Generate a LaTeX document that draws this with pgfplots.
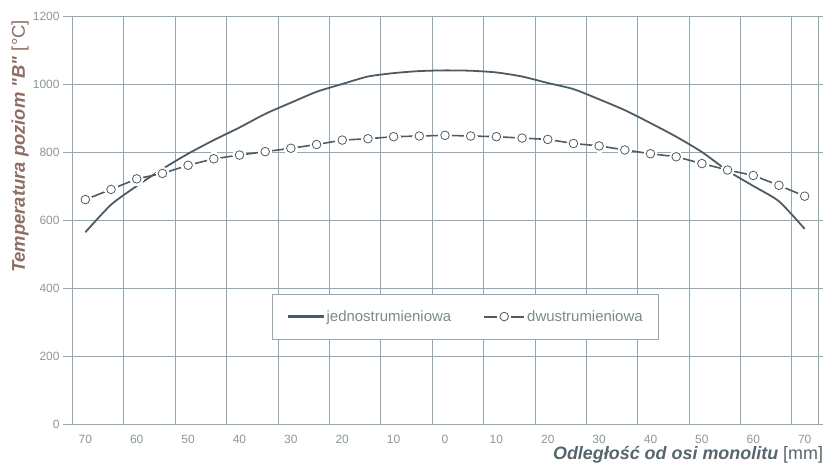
\documentclass[border=0pt]{standalone}
\usepackage{pgfplots}
\usepackage{pgfplotstable}
\pgfplotsset{compat=1.18}
\usepackage{fontspec}
\setmainfont{Liberation Sans}
\definecolor{gridc}{HTML}{8FA8B4}
\definecolor{linec}{HTML}{4F5B63}
\definecolor{tickc}{HTML}{8A979E}
\definecolor{ylab}{HTML}{8E6E62}
\definecolor{xlab}{HTML}{56666E}

\pgfplotstableread{
x y
-70 564
-65 645
-60 700
-55 750
-50 795
-45 835
-40 872
-35 912
-30 945
-25 977
-20 1000
-15 1022
-10 1032
-5 1038
0 1040
5 1039
10 1034
15 1022
20 1003
25 985
30 955
35 923
40 885
45 845
50 800
55 745
60 700
65 655
70 574
}\jedno

\pgfplotstableread{
x y
-70 660
-65 690
-60 721
-55 737
-50 761
-45 780
-40 791
-35 801
-30 811
-25 822
-20 835
-15 839
-10 845
-5 847
0 849
5 847
10 845
15 841
20 837
25 825
30 818
35 806
40 795
45 786
50 766
55 747
60 731
65 702
70 670
}\dwu

\begin{document}
\begin{tikzpicture}
\begin{axis}[
  name=ax, scale only axis, width=746bp, height=408bp,
  xmin=-72.6, xmax=72.6, ymin=0, ymax=1200,
  xtick={-70,-60,-50,-40,-30,-20,-10,0,10,20,30,40,50,60,70},
  xticklabels={70,60,50,40,30,20,10,0,10,20,30,40,50,60,70},
  minor xtick={-62.5,-52.5,-42.5,-32.5,-22.5,-12.5,-2.5,7.5,17.5,27.5,37.5,47.5,57.5,67.5},
  xminorgrids,
  ytick={0,200,400,600,800,1000,1200},
  ymajorgrids,
  major x tick style={draw=none},
  minor x tick style={draw=none},
  ytick style={gridc, line width=0.8pt},
  ytick align=outside, major tick length=9bp,
  axis line style={gridc, line width=0.8pt},
  grid style={gridc, line width=0.8pt},
  minor grid style={gridc, line width=0.8pt},
  tick label style={font=\fontsize{12}{14}\selectfont, text=tickc},
  xticklabel style={yshift=-8bp},
  /pgf/number format/assume math mode=true,
  /pgf/number format/1000 sep={},
  xlabel={\textbf{\textit{Odległość od osi monolitu}} [mm]},
  xlabel style={at={(axis description cs:1.007,-0.076)}, anchor=east, font=\fontsize{18}{20}\selectfont, text=xlab, inner sep=0pt},
  ylabel={\textbf{\textit{Temperatura poziom \textquotedbl B\textquotedbl}} [°C]},
  ylabel style={at={(axis description cs:-0.0697,0.68)}, anchor=center, font=\fontsize{18.5}{20}\selectfont, text=ylab, inner sep=0pt},
  legend style={at={(axis cs:4,316)}, anchor=center, draw=gridc, fill=white,
    font=\fontsize{15}{17}\selectfont, text=tickc!90!black,
    inner xsep=14bp, inner ysep=14bp,
    /tikz/every even column/.append style={column sep=30bp}},
  legend columns=2,
  legend cell align=left,
]
\addplot[linec, line width=1.8pt, smooth, tension=0.4, forget plot] table[x=x,y=y]{\jedno};
\addplot[linec, line width=1.6pt, forget plot] table[x=x,y=y]{\dwu};
\addplot[white, only marks, mark=*, mark size=6.5bp, mark options={draw=white, fill=white, line width=0pt}, forget plot] table[x=x,y=y]{\dwu};
\addplot[linec, only marks, mark=*, mark size=4.3bp, mark options={draw=linec, line width=0.8pt, fill=white}, forget plot] table[x=x,y=y]{\dwu};
\addlegendimage{legend image code/.code={\draw[linec, line width=2.2pt] (0bp,0bp) -- (36bp,0bp);}}
\addlegendentry{jednostrumieniowa}
\addlegendimage{legend image code/.code={\draw[linec, line width=2pt] (0bp,0bp) -- (13bp,0bp); \draw[linec, line width=2pt] (27bp,0bp) -- (40bp,0bp); \draw[linec, line width=0.8pt, fill=white] (20bp,0bp) circle (4.3bp);}}
\addlegendentry{dwustrumieniowa}
\end{axis}
\pgfresetboundingbox
\path ([shift={(-72bp,-48bp)}]ax.south west) rectangle ([shift={(5bp,16bp)}]ax.north east);
\end{tikzpicture}
\end{document}
